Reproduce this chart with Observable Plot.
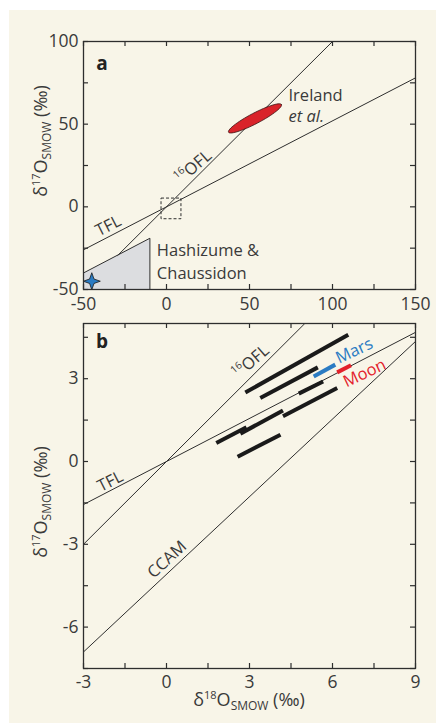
<!DOCTYPE html>
<html><head><meta charset="utf-8">
<script src="https://cdn.jsdelivr.net/npm/d3@7"></script>
<script src="https://cdn.jsdelivr.net/npm/@observablehq/plot@0.6"></script>
<style>
body{margin:0;background:#fff;width:436px;height:723px;position:relative;overflow:hidden;font-family:"Open Sans",sans-serif}
#bg{position:absolute;left:9px;top:10px;width:427px;height:713px;background:#f8f5e8}
#a,#b{position:absolute;left:0}
#a{top:0}
#b{top:300px}
svg{overflow:visible}
</style></head><body><div id="bg"></div><div id="a"></div><div id="b"></div>
<script>
// ---------- Panel a data ----------
const aXDomain = [-50, 150];
const aYDomain = [-50, 100];
const aXTickLabels = [-50, 0, 50, 100, 150];
const aYTickLabels = [-50, 0, 50, 100];
const aXTicks = [-50, -25, 0, 25, 50, 75, 100, 125, 150];
const aYTicks = [-50, -25, 0, 25, 50, 75, 100];
const aLineNames = ["TFL", "16OFL"];
const aLineX1 = [-50, -29.5];
const aLineY1 = [-26, -29.5];
const aLineX2 = [150, 100];
const aLineY2 = [78, 100];
const hashPolyX = [-50, -50, -10, -10, -50];
const hashPolyY = [-50, -40, -19, -50, -50];
const starX = [-45];
const starY = [-45];
const ellCenter = [53.3, 53.5];
const ellSemiMajor = 18;
const ellSemiMinor = 3.2;
const ellAngleDeg = 27.7;
const zoomBoxX = [-3, 9];
const zoomBoxY = [-7.5, 5];
const aLabels = ["Ireland", "Hashizume &", "Chaussidon"];
const aLabelX = [73.5, -5.8, -5.8];
const aLabelY = [67.2, -26.6, -40.2];
const aItalic = ["et al."];
const aItalicX = [73.5];
const aItalicY = [54.6];
const aTFLLabel = {text: "TFL", x: -35, y: -11.5};
const aOFLLabel = {x: 16.2, y: 24.4};
const aPanel = {text: "a", x: -38.9, y: 86.7};

// ---------- Panel b data ----------
const bXDomain = [-3, 9];
const bYDomain = [-7.5, 5];
const bXTickLabels = [-3, 0, 3, 6, 9];
const bYTickLabels = [-6, -3, 0, 3];
const bXTicks = [-3, -1.5, 0, 1.5, 3, 4.5, 6, 7.5, 9];
const bYTicks = [-7.5, -6, -4.5, -3, -1.5, 0, 1.5, 3, 4.5];
const bLineNames = ["TFL", "16OFL", "CCAM"];
const bLineX1 = [-3, -3, -3];
const bLineY1 = [-1.56, -3, -6.9];
const bLineX2 = [9, 5, 9];
const bLineY2 = [4.68, 5, 4.35];
const segX1 = [2.85, 3.39, 4.78, 4.21, 2.67, 1.80, 2.57];
const segY1 = [2.50, 2.30, 2.46, 1.64, 1.01, 0.67, 0.17];
const segX2 = [6.57, 5.47, 5.66, 6.17, 4.21, 2.89, 4.12];
const segY2 = [4.59, 3.41, 2.90, 2.66, 1.85, 1.24, 0.97];
const bodyNames = ["Mars", "Moon"];
const bodyX1 = [5.32, 6.17];
const bodyY1 = [3.08, 3.23];
const bodyX2 = [6.10, 6.67];
const bodyY2 = [3.51, 3.49];
const bodyColors = ["#2a7bc3", "#e3222b"];
const bodyLabelX = [6.79, 7.16];
const bodyLabelY = [4.01, 3.2];
const bTFLLabel = {text: "TFL", x: -2.03, y: -0.72};
const bCCAMLabel = {text: "CCAM", x: 0.02, y: -3.55};
const bOFLLabel = {x: 3.05, y: 3.63};
const bPanel = {text: "b", x: -2.33, y: 4.32};

// ---------- styling ----------
const ink = "#2e2e2e";
const textCol = "#3a3a3a";
const FS = 16.5;
const TFS = 17.5;
const fmt = d => String(d);

function ticksMarks(xt, yt, innerW, innerH) {
  const L = 5;
  return [
    Plot.ruleX(xt, {x: d => d, insetTop: innerH - L, stroke: ink, strokeWidth: 1.2}),
    Plot.ruleX(xt, {x: d => d, insetBottom: innerH - L, stroke: ink, strokeWidth: 1.2}),
    Plot.ruleY(yt, {y: d => d, insetRight: innerW - L, stroke: ink, strokeWidth: 1.2}),
    Plot.ruleY(yt, {y: d => d, insetLeft: innerW - L, stroke: ink, strokeWidth: 1.2})
  ];
}

function ylabel(svg, cx, cy, sup) {
  const t = d3.select(svg).append("text")
    .attr("transform", `translate(${cx},${cy}) rotate(-90)`)
    .attr("text-anchor", "middle")
    .attr("fill", textCol)
    .attr("font-family", "Open Sans")
    .attr("font-size", 18);
  t.append("tspan").text("δ");
  t.append("tspan").attr("font-size", 11).attr("dy", -7).text(sup);
  t.append("tspan").attr("dy", 7).text("O");
  t.append("tspan").attr("font-size", 12).attr("dy", 4).text("SMOW");
  t.append("tspan").attr("dy", -4).text(" (‰)");
  return t;
}

function oflLabel(svg, px, py, angle) {
  const t = d3.select(svg).append("text")
    .attr("transform", `translate(${px},${py}) rotate(${angle})`)
    .attr("text-anchor", "middle")
    .attr("dy", "0.35em")
    .attr("fill", textCol)
    .attr("font-family", "Open Sans")
    .attr("font-size", FS);
  t.append("tspan").attr("font-size", 10).attr("dy", "-0.1em").text("16");
  t.append("tspan").attr("dy", "0.45em").text("OFL");
}

// ---------- Panel a ----------
const aLines = aLineNames.map((n, i) => ({n, x1: aLineX1[i], y1: aLineY1[i], x2: aLineX2[i], y2: aLineY2[i]}));
const hashPoly = hashPolyX.map((x, i) => ({x, y: hashPolyY[i]}));
const th = ellAngleDeg * Math.PI / 180;
const ellipse = d3.range(0, 361, 6).map(deg => {
  const t = deg * Math.PI / 180;
  const ex = ellSemiMajor * Math.cos(t), ey = ellSemiMinor * Math.sin(t);
  return {x: ellCenter[0] + ex * Math.cos(th) - ey * Math.sin(th), y: ellCenter[1] + ex * Math.sin(th) + ey * Math.cos(th)};
});
const star4 = {
  draw(ctx, size) {
    const r = Math.sqrt(size / Math.PI), i = r * 0.26;
    ctx.moveTo(0, -r); ctx.lineTo(i, -i); ctx.lineTo(r, 0); ctx.lineTo(i, i);
    ctx.lineTo(0, r); ctx.lineTo(-i, i); ctx.lineTo(-r, 0); ctx.lineTo(-i, -i); ctx.closePath();
  }
};

const aW = 436, aH = 330, aML = 83, aMR = 21, aMT = 41, aMB = 41;
const svgA = Plot.plot({
  width: aW, height: aH, marginLeft: aML, marginRight: aMR, marginTop: aMT, marginBottom: aMB,
  style: {background: "transparent", fontFamily: "Open Sans", fontSize: FS + "px", color: textCol},
  x: {domain: aXDomain, label: null},
  y: {domain: aYDomain, label: null},
  marks: [
    Plot.line(hashPoly, {x: "x", y: "y", fill: "#dcdde0", stroke: ink, strokeWidth: 1}),
    Plot.rect([{x1: zoomBoxX[0], x2: zoomBoxX[1], y1: zoomBoxY[0], y2: zoomBoxY[1]}], {x1: "x1", x2: "x2", y1: "y1", y2: "y2", fill: "none", stroke: ink, strokeWidth: 1, strokeDasharray: "3,2"}),
    Plot.link(aLines, {x1: "x1", y1: "y1", x2: "x2", y2: "y2", stroke: ink, strokeWidth: 1}),
    Plot.line(ellipse, {x: "x", y: "y", fill: "#d9232a", stroke: "#3a1010", strokeWidth: 0.8}),
    Plot.dot(starX.map((x, i) => ({x, y: starY[i]})), {x: "x", y: "y", symbol: star4, r: 8.5, fill: "#2a7bc3", stroke: "#1a1a1a", strokeWidth: 0.8}),
    ...ticksMarks(aXTicks, aYTicks, aW - aML - aMR, aH - aMT - aMB),
    Plot.frame({stroke: ink, strokeWidth: 1.3}),
    Plot.axisX(aXTickLabels, {anchor: "bottom", tickSize: 0, tickPadding: 8, tickFormat: fmt, label: null, fontSize: TFS}),
    Plot.axisY(aYTickLabels, {anchor: "left", tickSize: 0, tickPadding: 5, tickFormat: fmt, label: null, fontSize: TFS}),
    Plot.text(aLabels.map((t, i) => ({t, x: aLabelX[i], y: aLabelY[i]})), {x: "x", y: "y", text: "t", textAnchor: "start", fontSize: FS, fill: textCol}),
    Plot.text(aItalic.map((t, i) => ({t, x: aItalicX[i], y: aItalicY[i]})), {x: "x", y: "y", text: "t", textAnchor: "start", fontSize: FS, fontStyle: "italic", fill: textCol}),
    Plot.text([aTFLLabel], {x: "x", y: "y", text: "text", rotate: -27, fontSize: FS, fill: textCol}),
    Plot.text([aPanel], {x: "x", y: "y", text: "text", fontSize: 19, fontWeight: "bold", fill: "#222"})
  ]
});
document.getElementById("a").append(svgA);
ylabel(svgA, 47, 141, "17");
oflLabel(svgA, svgA.scale("x").apply(aOFLLabel.x), svgA.scale("y").apply(aOFLLabel.y), -41);

// ---------- Panel b ----------
const bLines = bLineNames.map((n, i) => ({n, x1: bLineX1[i], y1: bLineY1[i], x2: bLineX2[i], y2: bLineY2[i]}));
const segs = segX1.map((x1, i) => ({x1, y1: segY1[i], x2: segX2[i], y2: segY2[i]}));
const bodies = bodyNames.map((n, i) => ({n, x1: bodyX1[i], y1: bodyY1[i], x2: bodyX2[i], y2: bodyY2[i], c: bodyColors[i], lx: bodyLabelX[i], ly: bodyLabelY[i]}));

const bW = 436, bH = 423, bML = 83, bMR = 21, bMT = 23, bMB = 55;
const svgB = Plot.plot({
  width: bW, height: bH, marginLeft: bML, marginRight: bMR, marginTop: bMT, marginBottom: bMB,
  style: {background: "transparent", fontFamily: "Open Sans", fontSize: FS + "px", color: textCol},
  x: {domain: bXDomain, label: null},
  y: {domain: bYDomain, label: null},
  marks: [
    Plot.link(bLines, {x1: "x1", y1: "y1", x2: "x2", y2: "y2", stroke: ink, strokeWidth: 1}),
    Plot.link(segs, {x1: "x1", y1: "y1", x2: "x2", y2: "y2", stroke: "#1a1a1a", strokeWidth: 4}),
    Plot.link(bodies, {x1: "x1", y1: "y1", x2: "x2", y2: "y2", stroke: "c", strokeWidth: 4}),
    Plot.text(bodies, {x: "lx", y: "ly", text: "n", fill: "c", rotate: -25, fontSize: FS}),
    ...ticksMarks(bXTicks, bYTicks, bW - bML - bMR, bH - bMT - bMB),
    Plot.frame({stroke: ink, strokeWidth: 1.3}),
    Plot.axisX(bXTickLabels, {anchor: "bottom", tickSize: 0, tickPadding: 7, tickFormat: fmt, label: null, fontSize: TFS}),
    Plot.axisY(bYTickLabels, {anchor: "left", tickSize: 0, tickPadding: 5, tickFormat: fmt, label: null, fontSize: TFS}),
    Plot.text([bTFLLabel], {x: "x", y: "y", text: "text", rotate: -27, fontSize: FS, fill: textCol}),
    Plot.text([bCCAMLabel], {x: "x", y: "y", text: "text", rotate: -43, fontSize: FS, fill: textCol}),
    Plot.text([bPanel], {x: "x", y: "y", text: "text", fontSize: 19, fontWeight: "bold", fill: "#222"})
  ]
});
document.getElementById("b").append(svgB);
ylabel(svgB, 47, 202, "17");
oflLabel(svgB, svgB.scale("x").apply(bOFLLabel.x), svgB.scale("y").apply(bOFLLabel.y), -41);
// x label
{
  const t = d3.select(svgB).append("text")
    .attr("transform", `translate(${bML + (bW - bML - bMR) / 2 + 0},${bH - 17})`)
    .attr("text-anchor", "middle").attr("fill", textCol)
    .attr("font-family", "Open Sans").attr("font-size", 18);
  t.append("tspan").text("δ");
  t.append("tspan").attr("font-size", 11).attr("dy", -7).text("18");
  t.append("tspan").attr("dy", 7).text("O");
  t.append("tspan").attr("font-size", 12).attr("dy", 4).text("SMOW");
  t.append("tspan").attr("dy", -4).text(" (‰)");
}
</script></body></html>
